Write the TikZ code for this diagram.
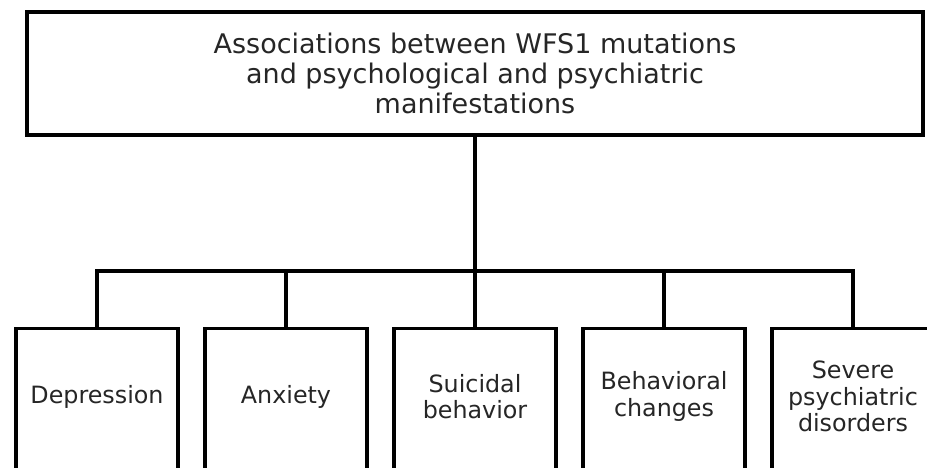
\documentclass[tikz,border=0pt]{standalone}
\usepackage{fontspec}
\setmainfont{DejaVu Sans}
\begin{document}
\begin{tikzpicture}[x=1pt,y=1pt,
  every node/.style={text=black!85},
  link/.style={draw=black, line width=3.4pt},
  topbox/.style={draw=black, line width=3.4pt, minimum width=896, minimum height=123, align=center, inner sep=0pt, font=\fontsize{27}{30}\selectfont},
  leaf/.style={draw=black, line width=3.4pt, minimum width=162, minimum height=145, anchor=north, inner sep=0pt},
  leaftext/.style={align=center, inner sep=0pt, font=\fontsize{23.8}{26.5}\selectfont}]
\useasboundingbox (0,0) rectangle (927,-467);
\clip (0,0) rectangle (927,-467);
\fill[white] (0,0) rectangle (927,-467);
\node[topbox] (top) at (475,-73.5) {Associations between WFS1 mutations\\and psychological and psychiatric\\manifestations};
\node[leaf] (d) at (97,-327) {};
\node[leaf] (a) at (286,-327) {};
\node[leaf] (s) at (475,-327) {};
\node[leaf] (b) at (664,-327) {};
\node[leaf] (p) at (853,-327) {};
\node[leaftext] (dt) at (97,-397) {Depression};
\node[leaftext] (at) at (286,-397) {Anxiety};
\node[leaftext] (st) at (475,-396.5) {Suicidal\\behavior};
\node[leaftext] (bt) at (664,-396.5) {Behavioral\\changes};
\node[leaftext] (pt) at (853,-396.5) {Severe\\psychiatric\\disorders};
\coordinate (bus) at (475,-271);
\draw[link] (top.south) -- (s.north);
\draw[link] (d.north) |- (bus) -| (p.north);
\draw[link] (a.north) -- (a.north |- bus);
\draw[link] (b.north) -- (b.north |- bus);
\end{tikzpicture}
\end{document}
